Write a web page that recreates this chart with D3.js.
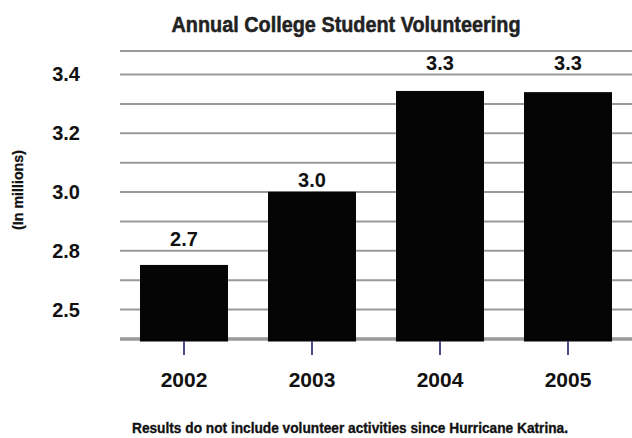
<!DOCTYPE html>
<html>
<head>
<meta charset="utf-8">
<script src="https://cdn.jsdelivr.net/npm/d3@7"></script>
<style>
  html, body { margin: 0; padding: 0; background: #fff; }
  svg { display: block; }
  .narrow { font-family: "Liberation Sans", Arial, sans-serif; font-weight: bold; }
  .num { font-family: "Liberation Sans", Arial, sans-serif; font-weight: bold; }
</style>
</head>
<body>
<script>
// ---- data ----
const years = ["2002", "2003", "2004", "2005"];
const volunteers = [2.752, 3.001, 3.344, 3.340];           // millions
const valueLabels = ["2.7", "3.0", "3.3", "3.3"];
const yTickValues = [3.4, 3.2, 3.0, 2.8, 2.6];
const yTickLabels = ["3.4", "3.2", "3.0", "2.8", "2.5"];
const gridValues = [2.6, 2.7, 2.8, 2.9, 3.0, 3.1, 3.2, 3.3, 3.4, 3.48];
const baselineValue = 2.5;
const titleText = "Annual College Student Volunteering";
const yAxisTitle = "(In millions)";
const footnote = "Results do not include volunteer activities since Hurricane Katrina.";

// ---- layout ----
const W = 632, H = 438;
const svg = d3.select("body").append("svg").attr("width", W).attr("height", H);

const x = d3.scaleBand().domain(years).range([120, 632]).paddingInner(0.3125).paddingOuter(0.15625);
const y = d3.scaleLinear().domain([2.5, 3.4]).range([339, 74.5]);

// gridlines
svg.append("g").selectAll("line").data(gridValues).join("line")
  .attr("x1", 120).attr("x2", W)
  .attr("y1", d => y(d)).attr("y2", d => y(d))
  .attr("stroke", "#9a9a9a").attr("stroke-width", 2);

// baseline
svg.append("line")
  .attr("x1", 120).attr("x2", W)
  .attr("y1", y(baselineValue)).attr("y2", y(baselineValue))
  .attr("stroke", "#999").attr("stroke-width", 3.5);

// bars
svg.append("g").selectAll("rect").data(years).join("rect")
  .attr("x", d => x(d))
  .attr("width", x.bandwidth())
  .attr("y", (d, i) => y(volunteers[i]))
  .attr("height", (d, i) => y(baselineValue) + 2.5 - y(volunteers[i]))
  .attr("fill", "#050505");

// value labels (sit just above the gridline at or above each bar top)
svg.append("g").selectAll("text").data(years).join("text")
  .attr("class", "num")
  .attr("x", d => x(d) + x.bandwidth() / 2)
  .attr("y", (d, i) => y(Math.ceil(volunteers[i] * 10 - 0.05) / 10) - 5)
  .attr("text-anchor", "middle")
  .attr("font-size", 20)
  .attr("fill", "#111")
  .text((d, i) => valueLabels[i]);

// x axis
const xAxis = svg.append("g")
  .attr("transform", `translate(0,${y(baselineValue) + 2})`)
  .call(d3.axisBottom(x).tickSize(14).tickSizeOuter(0).tickPadding(17));
xAxis.select(".domain").remove();
xAxis.selectAll(".tick line").attr("stroke", "#4b4b8f").attr("stroke-width", 2);
xAxis.selectAll(".tick text")
  .attr("class", "num")
  .attr("font-size", 21)
  .attr("fill", "#111");

// y axis labels
const yAxis = svg.append("g")
  .attr("transform", "translate(80,0)")
  .call(d3.axisLeft(y).tickValues(yTickValues).tickSize(0).tickPadding(0)
    .tickFormat((d, i) => yTickLabels[i]));
yAxis.select(".domain").remove();
yAxis.selectAll(".tick text")
  .attr("class", "num")
  .attr("font-size", 20)
  .attr("fill", "#111");

// y axis title
svg.append("text")
  .attr("class", "narrow")
  .attr("transform", "translate(22.5,190) rotate(-90)")
  .attr("text-anchor", "middle")
  .attr("font-size", 15)
  .attr("textLength", 80).attr("lengthAdjust", "spacingAndGlyphs")
  .attr("fill", "#111").attr("stroke", "#111").attr("stroke-width", 0.3)
  .text(yAxisTitle);

// title
svg.append("text")
  .attr("class", "narrow")
  .attr("x", 346).attr("y", 31.7)
  .attr("text-anchor", "middle")
  .attr("font-size", 22)
  .attr("textLength", 349).attr("lengthAdjust", "spacingAndGlyphs")
  .attr("fill", "#222").attr("stroke", "#222").attr("stroke-width", 0.5)
  .text(titleText);

// footnote
svg.append("text")
  .attr("class", "narrow")
  .attr("x", 350).attr("y", 432.5)
  .attr("text-anchor", "middle")
  .attr("font-size", 15)
  .attr("textLength", 436).attr("lengthAdjust", "spacingAndGlyphs")
  .attr("fill", "#111").attr("stroke", "#111").attr("stroke-width", 0.35)
  .text(footnote);
</script>
</body>
</html>
